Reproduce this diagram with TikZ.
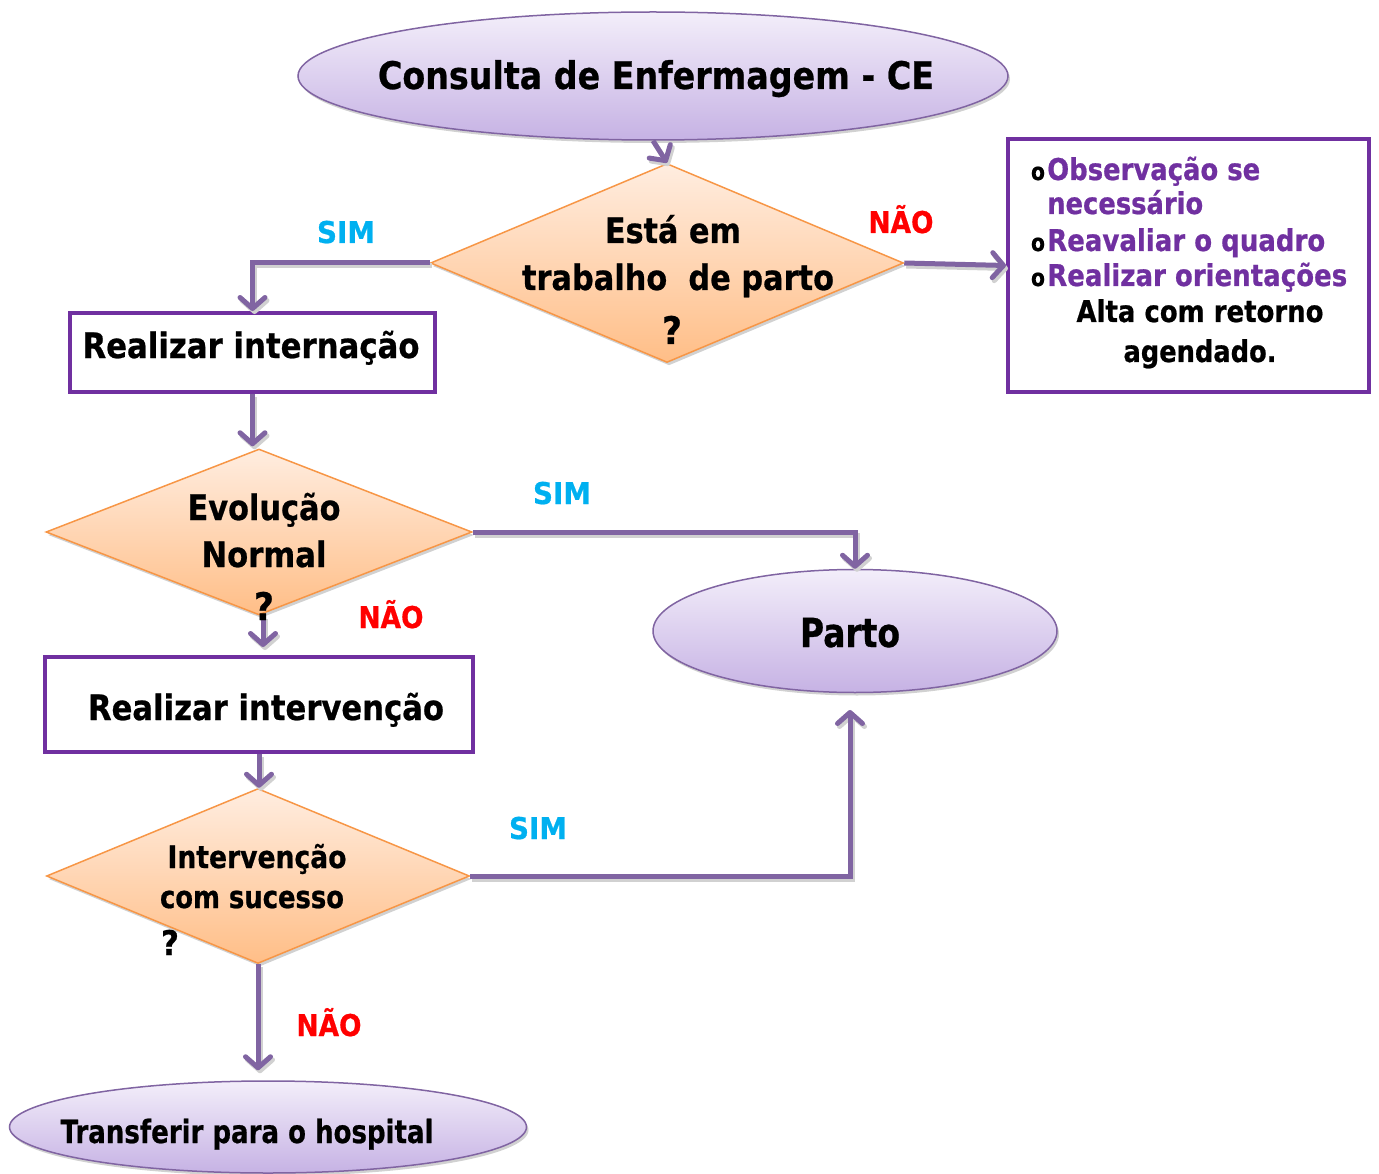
\documentclass[tikz,border=0pt]{standalone}
\usepackage{fontspec}
\setmainfont{DejaVu Sans}[BoldFeatures={FakeBold=0.7}]
\usepackage{graphicx}
\usetikzlibrary{shapes.geometric,arrows.meta,shadows}

\definecolor{lineviolet}{RGB}{128,100,162}
\definecolor{boxviolet}{RGB}{112,48,160}
\definecolor{ovaltop}{RGB}{243,238,250}
\definecolor{ovalbot}{RGB}{198,178,228}
\definecolor{diatop}{RGB}{255,237,224}
\definecolor{diabot}{RGB}{255,190,135}
\definecolor{diaedge}{RGB}{247,150,70}
\definecolor{simblue}{RGB}{0,176,240}
\definecolor{naored}{RGB}{255,0,0}

% bold label: #1 font size, #2 printed width, #3 text
\newcommand{\lab}[3]{{\fontsize{#1}{#1}\selectfont\bfseries\resizebox{#2pt}{\height}{#3}}}

\begin{document}
\begin{tikzpicture}[x=1pt,y=-1pt,
  oval/.style={ellipse, draw=lineviolet, line width=1.5pt,
    top color=ovaltop, bottom color=ovalbot, inner sep=0pt,
    drop shadow={shadow xshift=2pt, shadow yshift=-3pt, fill=black!30, opacity=0.6}},
  decision/.style={diamond, draw=diaedge, line width=1.5pt,
    top color=diatop, bottom color=diabot, inner sep=0pt,
    drop shadow={shadow xshift=2pt, shadow yshift=-3pt, fill=black!30, opacity=0.6}},
  actbox/.style={rectangle, draw=boxviolet, line width=4pt, fill=white, inner sep=0pt},
  flow/.style={draw=lineviolet, line width=5pt,
    -{Straight Barb[length=11pt,width=25pt,round]},
    preaction={draw=black!18, line width=5pt,
      transform canvas={shift={(2pt,-3pt)}}}},
  lbl/.style={anchor=base, inner sep=0pt, text=black},
  lblw/.style={anchor=base west, inner sep=0pt},
]
\useasboundingbox (0,0) rectangle (1379,1174);

% ---- shapes ----
\node[oval, minimum width=710pt, minimum height=128pt] (ce) at (653,76) {};
\node[decision, minimum width=473pt, minimum height=199pt] (d1) at (667,263) {};
\node[actbox, minimum width=361pt, minimum height=253pt] (obs) at (1188.5,265.5) {};
\node[actbox, minimum width=365pt, minimum height=79pt] (ri) at (252.5,352.5) {};
\node[decision, minimum width=426pt, minimum height=166pt] (d2) at (259,532) {};
\node[oval, minimum width=404pt, minimum height=123pt] (parto) at (855,631) {};
\node[actbox, minimum width=428pt, minimum height=95pt] (ri2) at (259,704.5) {};
\node[decision, minimum width=423pt, minimum height=175pt] (d3) at (258,876) {};
\node[oval, minimum width=517pt, minimum height=92pt] (tr) at (268,1127) {};
\coordinate (pin) at (850,710);

% ---- connectors ----
\draw[flow] (ce.south) -- (d1.north);
\draw[flow] (d1.west) -| (ri.north);
\draw[flow] (d1.east) -- (obs.west);
\draw[flow, shorten >=2pt] (ri.south) -- (ri.south |- d2.north);
\draw[flow] (d2.east) -| (parto.north);
\draw[flow, shorten >=8pt] ([xshift=4pt]d2.south) -- ([xshift=4pt]d2.south |- ri2.north);
\draw[flow] (ri2.south) -- (ri2.south |- d3.north);
\draw[flow] (d3.east) -| (pin);
\draw[flow, shorten >=10pt] (d3.south) -- (d3.south |- tr.north);

% ---- texts ----
\node[lbl] (ceT) at (656,89) {\lab{38}{556}{Consulta de Enfermagem - CE}};
\node[lbl] (d1a) at (673,243) {\lab{35}{136}{Está em}};
\node[lbl] (d1b) at (678,290) {\lab{35}{312}{trabalho~ de parto}};
\node[lbl] (d1c) at (672,344) {\lab{38}{20}{?}};
\node[lbl] (riT) at (251,358) {\lab{35}{337}{Realizar internação}};
\node[lbl] (d2a) at (264,520) {\lab{35}{153}{Evolução}};
\node[lbl] (d2b) at (264,567) {\lab{35}{125}{Normal}};
\node[lbl] (d2c) at (264,620) {\lab{38}{20}{?}};
\node[lbl] (paT) at (850,647) {\lab{40}{100}{Parto}};
\node[lbl] (ri2T) at (266,720) {\lab{35}{356}{Realizar intervenção}};
\node[lbl] (d3a) at (257,868) {\lab{31}{179}{Intervenção}};
\node[lbl] (d3b) at (252,908) {\lab{31}{184}{com sucesso}};
\node[lbl] (d3c) at (170,955) {\lab{34}{18}{?}};
\node[lbl] (trT) at (247,1143) {\lab{32}{373}{Transferir para o hospital}};

% branch labels
\node[lbl, text=simblue] (s1) at (346,243) {\lab{30}{58}{SIM}};
\node[lbl, text=naored] (n1) at (901,233) {\lab{30}{65}{NÃO}};
\node[lbl, text=simblue] (s2) at (562,504) {\lab{30}{58}{SIM}};
\node[lbl, text=naored] (n2) at (391,628) {\lab{30}{65}{NÃO}};
\node[lbl, text=simblue] (s3) at (538,839) {\lab{30}{58}{SIM}};
\node[lbl, text=naored] (n3) at (329,1036) {\lab{30}{65}{NÃO}};

% side box contents
\node[lbl] (b1) at (1038,180) {\lab{24}{14}{o}};
\node[lbl] (b2) at (1038,251) {\lab{24}{14}{o}};
\node[lbl] (b3) at (1038,286) {\lab{24}{14}{o}};
\node[lblw, text=boxviolet] (o1) at (1047,180) {\lab{30}{213}{Observação se}};
\node[lblw, text=boxviolet] (o2) at (1047,214) {\lab{30}{156}{necessário}};
\node[lblw, text=boxviolet] (o3) at (1047,251) {\lab{30}{278}{Reavaliar o quadro}};
\node[lblw, text=boxviolet] (o4) at (1047,286) {\lab{30}{300}{Realizar orientações}};
\node[lbl] (o5) at (1200,322) {\lab{30}{247}{Alta com retorno}};
\node[lbl] (o6) at (1200,362) {\lab{30}{153}{agendado.}};
\end{tikzpicture}
\end{document}
